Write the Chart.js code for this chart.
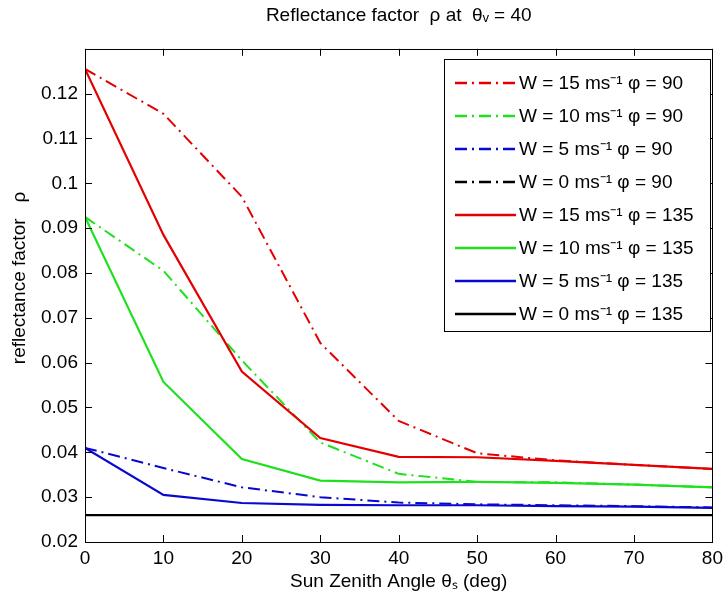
<!DOCTYPE html>
<html>
<head>
<meta charset="utf-8">
<script src="https://cdn.jsdelivr.net/npm/chart.js@4.4.1/dist/chart.umd.min.js"></script>
<style>
html,body{margin:0;padding:0;background:#fff;}
#wrap{width:728px;height:608px;position:relative;}
</style>
</head>
<body>
<div id="wrap"><canvas id="c" width="728" height="608"></canvas></div>
<script>
const angles = [0, 10, 20, 30, 40, 50, 60, 70, 80];
const yTicks = [0.02, 0.03, 0.04, 0.05, 0.06, 0.07, 0.08, 0.09, 0.1, 0.11, 0.12];
const w15_phi90  = [0.1255, 0.1155, 0.0970, 0.0644, 0.0470, 0.0398, 0.0382, 0.0372, 0.0363];
const w10_phi90  = [0.0925, 0.0805, 0.0605, 0.0422, 0.0352, 0.0334, 0.0333, 0.0328, 0.0322];
const w5_phi90   = [0.0410, 0.0365, 0.0322, 0.0300, 0.0288, 0.0284, 0.0282, 0.0280, 0.0277];
const w0_phi90   = [0.0260, 0.0260, 0.0260, 0.0260, 0.0260, 0.0260, 0.0260, 0.0260, 0.0260];
const w15_phi135 = [0.1255, 0.0885, 0.0580, 0.0432, 0.0390, 0.0389, 0.0381, 0.0372, 0.0363];
const w10_phi135 = [0.0925, 0.0557, 0.0385, 0.0337, 0.0333, 0.0334, 0.0332, 0.0328, 0.0322];
const w5_phi135  = [0.0410, 0.0305, 0.0287, 0.0283, 0.0282, 0.0282, 0.0280, 0.0279, 0.0276];
const w0_phi135  = [0.0260, 0.0260, 0.0260, 0.0260, 0.0260, 0.0260, 0.0260, 0.0260, 0.0260];
const seriesLabels = [
  'W = 15 ms⁻¹ φ = 90', 'W = 10 ms⁻¹ φ = 90', 'W = 5 ms⁻¹ φ = 90', 'W = 0 ms⁻¹ φ = 90',
  'W = 15 ms⁻¹ φ = 135', 'W = 10 ms⁻¹ φ = 135', 'W = 5 ms⁻¹ φ = 135', 'W = 0 ms⁻¹ φ = 135'
];
const titleText = 'Reflectance factor  ρ at  θᵥ = 40';
const xTitle = 'Sun Zenith Angle θₛ (deg)';
const yTitle = 'reflectance factor   ρ';

const RED = '#e40000', GREEN = '#1ee01e', BLUE = '#0808d0', BLACK = '#000000';
const DASHDOT = [12, 5, 2, 5];
const FONT = "'Liberation Sans', Arial, sans-serif";
const FS = 19;

function mk(label, vals, color, dashed) {
  return {
    label: label,
    data: angles.map((a, i) => ({x: a, y: vals[i]})),
    borderColor: color,
    backgroundColor: color,
    borderWidth: dashed ? 2 : 2.2,
    borderDash: dashed ? DASHDOT : [],
    pointRadius: 0,
    tension: 0,
    fill: false
  };
}

const datasets = [
  mk(seriesLabels[0], w15_phi90, RED, true),
  mk(seriesLabels[1], w10_phi90, GREEN, true),
  mk(seriesLabels[2], w5_phi90, BLUE, true),
  mk(seriesLabels[3], w0_phi90, BLACK, true),
  mk(seriesLabels[4], w15_phi135, RED, false),
  mk(seriesLabels[5], w10_phi135, GREEN, false),
  mk(seriesLabels[6], w5_phi135, BLUE, false),
  mk(seriesLabels[7], w0_phi135, BLACK, false)
].reverse();

const frameAndLegend = {
  id: 'frameAndLegend',
  afterDraw(chart) {
    const ctx = chart.ctx;
    const a = chart.chartArea;
    const xs = chart.scales.x, ys = chart.scales.y;
    ctx.save();
    // frame
    ctx.strokeStyle = '#000';
    ctx.lineWidth = 1;
    ctx.setLineDash([]);
    ctx.strokeRect(Math.round(a.left) + 0.5, Math.round(a.top) + 0.5,
                   Math.round(a.right - a.left), Math.round(a.bottom - a.top));
    // inside ticks
    const TL = 7;
    ctx.beginPath();
    xs.ticks.forEach(t => {
      const px = Math.round(xs.getPixelForValue(t.value)) + 0.5;
      ctx.moveTo(px, a.bottom); ctx.lineTo(px, a.bottom - TL);
      ctx.moveTo(px, a.top); ctx.lineTo(px, a.top + TL);
    });
    ys.ticks.forEach(t => {
      const py = Math.round(ys.getPixelForValue(t.value)) + 0.5;
      ctx.moveTo(a.left, py); ctx.lineTo(a.left + TL, py);
      ctx.moveTo(a.right, py); ctx.lineTo(a.right - TL, py);
    });
    ctx.stroke();

    // y axis title (rotated)
    ctx.save();
    ctx.translate(20, 278);
    ctx.rotate(-Math.PI / 2);
    ctx.font = FS + 'px ' + FONT;
    ctx.fillStyle = '#000';
    ctx.textAlign = 'center';
    ctx.textBaseline = 'middle';
    ctx.fillText(yTitle, 0, 0);
    ctx.restore();

    // legend box (inside top-right)
    const order = chart.data.datasets.slice().reverse();
    const bx = 444, by = 59, bw = 266, rowH = 33;
    const bh = rowH * order.length + 8;
    ctx.fillStyle = '#fff';
    ctx.fillRect(bx, by, bw, bh);
    ctx.strokeStyle = '#000';
    ctx.lineWidth = 1;
    ctx.strokeRect(bx + 0.5, by + 0.5, bw, bh);
    ctx.font = FS + 'px ' + FONT;
    ctx.textBaseline = 'middle';
    ctx.textAlign = 'left';
    order.forEach((ds, i) => {
      const cy = by + 24 + i * rowH;
      ctx.strokeStyle = ds.borderColor;
      ctx.lineWidth = 2.5;
      ctx.setLineDash(ds.borderDash || []);
      ctx.beginPath();
      ctx.moveTo(bx + 11, cy);
      ctx.lineTo(bx + 72, cy);
      ctx.stroke();
      ctx.setLineDash([]);
      ctx.fillStyle = '#000';
      ctx.fillText(ds.label, bx + 75, cy + 1);
    });
    ctx.restore();
  }
};

new Chart(document.getElementById('c'), {
  type: 'line',
  data: { datasets: datasets },
  options: {
    responsive: false,
    animation: false,
    layout: { padding: { left: 0, right: 9, top: 0, bottom: 0 } },
    plugins: {
      legend: { display: false },
      tooltip: { enabled: false },
      title: {
        display: true,
        fullSize: false,
        text: titleText,
        color: '#000',
        font: { family: FONT, size: FS, weight: 'normal' },
        padding: { top: 4, bottom: 22 }
      }
    },
    scales: {
      x: {
        type: 'linear',
        min: 0, max: 80,
        ticks: { stepSize: 10, color: '#000', font: { family: FONT, size: FS }, padding: 5, maxRotation: 0 },
        grid: { display: false, drawTicks: false },
        border: { display: false },
        title: { display: true, text: xTitle, color: '#000', font: { family: FONT, size: FS }, padding: { top: 0, bottom: 15 } },
        afterFit(s) { s.height = 66; }
      },
      y: {
        type: 'linear',
        min: 0.02, max: 0.13,
        afterBuildTicks(s) { s.ticks = yTicks.map(v => ({ value: v })); },
        ticks: {
          color: '#000', font: { family: FONT, size: FS }, padding: 7,
          callback: v => String(Number(v.toFixed(2)))
        },
        grid: { display: false, drawTicks: false },
        border: { display: false },
        title: { display: false, text: yTitle },
        afterFit(s) { s.width = 85; }
      }
    }
  },
  plugins: [frameAndLegend]
});
</script>
</body>
</html>
